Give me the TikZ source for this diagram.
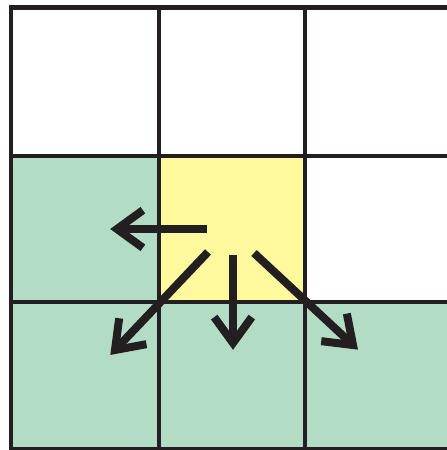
\documentclass[tikz,border=0pt]{standalone}
\usetikzlibrary{calc}
\definecolor{cellgreen}{RGB}{179,220,198}
\definecolor{cellyellow}{RGB}{255,249,158}
\definecolor{ink}{RGB}{35,31,32}
\tikzset{
  gridline/.style={draw=ink, line width=4.3pt},
  arrowline/.style={draw=ink, line width=8pt, line cap=butt},
  headline/.style={arrowline, line join=miter, miter limit=10}
}
\newcommand\chevarrow[2]{%
  \draw[arrowline] (#1) -- (#2);
  \draw[headline] ($(#2)!32pt!36:(#1)$) -- (#2) -- ($(#2)!32pt!-36:(#1)$);
}
\begin{document}
\begin{tikzpicture}[x=1pt,y=-1pt]
\useasboundingbox (0,0) rectangle (447,450);
\clip (0,0) rectangle (447,450);
\fill[white] (0,0) rectangle (447,450);
% cell fills
\fill[cellgreen] (11,156) rectangle (159,449.5);
\fill[cellgreen] (159,302) rectangle (452,449.5);
\fill[cellyellow] (159,156) rectangle (305,302);
% grid
\draw[gridline] (11,7.5) rectangle (452,449.5);
\draw[gridline] (159,7.5) -- (159,449.5);
\draw[gridline] (305,7.5) -- (305,449.5);
\draw[gridline] (11,156) -- (452,156);
\draw[gridline] (11,302) -- (452,302);
% arrows
\coordinate (sL) at (207,229);  \coordinate (tL) at (117,229);
\coordinate (sD) at (233,255);  \coordinate (tD) at (233,343);
\coordinate (sDL) at (208,252); \coordinate (tDL) at (115,350);
\coordinate (sDR) at (254,253); \coordinate (tDR) at (353,345);
\chevarrow{sL}{tL}
\chevarrow{sD}{tD}
\chevarrow{sDL}{tDL}
\chevarrow{sDR}{tDR}
\end{tikzpicture}
\end{document}
